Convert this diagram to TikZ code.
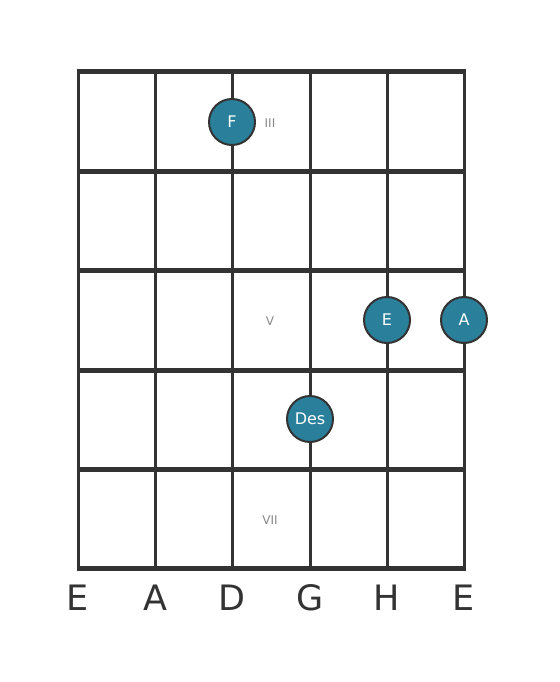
\documentclass[tikz,border=0pt]{standalone}
\usepackage{fontspec}
\setmainfont{DejaVu Sans}
\definecolor{linec}{HTML}{333333}
\definecolor{notec}{HTML}{2A7F9B}
\definecolor{fretc}{HTML}{888888}
\begin{document}
\begin{tikzpicture}[x=1pt,y=-1pt,
  stringline/.style={draw=linec,line width=3pt},
  fretline/.style={draw=linec,line width=5pt},
  note/.style={circle,draw=linec,line width=2pt,fill=notec,minimum size=46pt,inner sep=0pt,text=white,font=\fontsize{16}{18}\selectfont},
  fretnum/.style={text=fretc,font=\fontsize{12}{14}\selectfont,inner sep=0pt},
  strname/.style={text=linec,font=\fontsize{35}{40}\selectfont,inner sep=0pt}]
\useasboundingbox (0,0) rectangle (559,682);
\fill[white] (0,0) rectangle (559,682);
% strings
\foreach \i/\x in {1/78,2/155,3/232,4/310,5/387,6/464}{
  \coordinate (st\i) at (\x,72);
  \coordinate (sb\i) at (\x,568);
  \draw[stringline] (st\i) -- (sb\i);
}
% frets
\foreach \j/\y in {0/72,1/171,2/270,3/370,4/469,5/568}{
  \coordinate (fl\j) at (76.5,\y);
  \coordinate (fr\j) at (465.5,\y);
  \draw[fretline] (fl\j) -- (fr\j);
}
% fret numbers
\node[fretnum] (n3) at (270,123) {III};
\node[fretnum] (n5) at (270,321) {V};
\node[fretnum] (n7) at (270,520) {VII};
% notes
\node[note] (F) at (232,122) {F};
\node[note] (E) at (387,320) {E};
\node[note] (A) at (464,320) {A};
\node[note] (Des) at (310,419) {Des};
% string names
\node[strname] (l1) at (78,598) {E};
\node[strname] (l2) at (155,598) {A};
\node[strname] (l3) at (232,598) {D};
\node[strname] (l4) at (310,598) {G};
\node[strname] (l5) at (387,598) {H};
\node[strname] (l6) at (464,598) {E};
\end{tikzpicture}
\end{document}
